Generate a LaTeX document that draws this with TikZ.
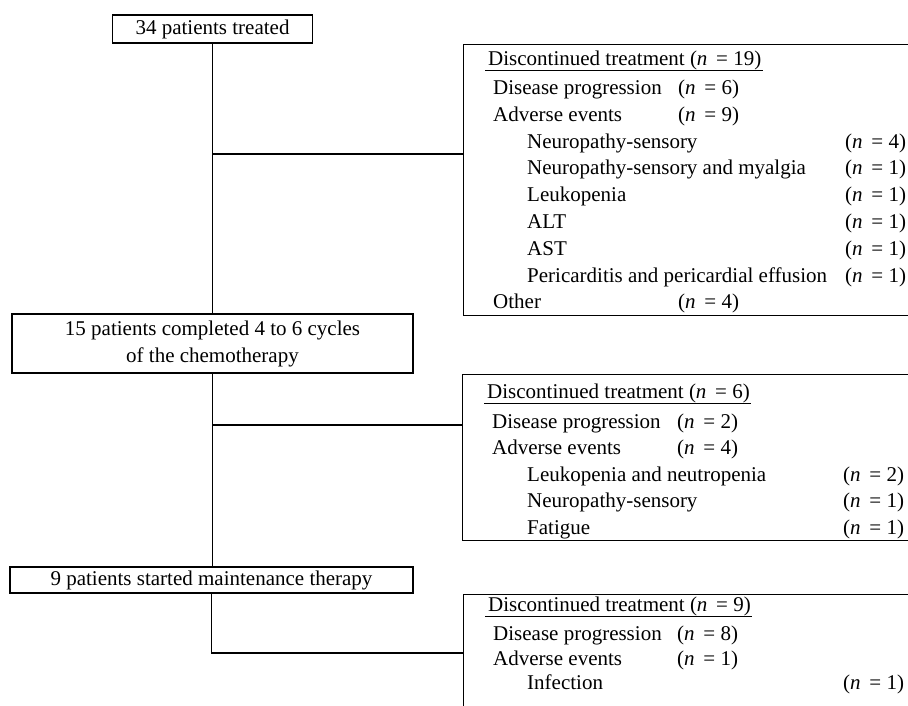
\documentclass[tikz,border=0pt]{standalone}
\usepackage{fontspec}
\setmainfont{Liberation Serif}
\newcommand{\nval}[1]{(\textit{n}\,\ = #1)}
\begin{document}
\begin{tikzpicture}[x=1pt,y=-1pt,
	every node/.style={font=\fontsize{21}{27}\selectfont},
	pbox/.style={draw,line width=1.4pt,align=center,inner sep=0pt},
	dbox/.style={draw,line width=1.4pt,anchor=north west,inner sep=0pt},
	item/.style={anchor=base west,inner sep=0pt},
	link/.style={line width=1.3pt},
	hlink/.style={line width=2pt},
	uline/.style={line width=0.9pt}]
	\useasboundingbox (0,0) rectangle (908,705);
	\clip (0,0) rectangle (908,705);
	\node[pbox,minimum width=200pt,minimum height=28pt] (treated) at (212.5,29) {34 patients treated};
	\node[pbox,minimum width=401pt,minimum height=59pt] (completed) at (212.5,343.5) {15 patients completed 4 to 6 cycles\\of the chemotherapy};
	\node[pbox,minimum width=403pt,minimum height=26pt] (started) at (211.5,580) {9 patients started maintenance therapy};
	\node[dbox,minimum width=540pt,minimum height=271pt] (off1) at (463,44) {};
	\node[dbox,minimum width=540pt,minimum height=166pt] (off2) at (462,374) {};
	\node[dbox,minimum width=540pt,minimum height=200pt] (off3) at (463,594) {};
	\node[item] (h1) at (488,65) {Discontinued treatment \nval{19}};
	\node[item] (p1) at (493,94) {Disease progression};
	\node[item] (p1n) at (678,94) {\nval{6}};
	\node[item] (e1) at (493,121) {Adverse events};
	\node[item] (e1n) at (678,121) {\nval{9}};
	\node[item] (e1a) at (527,148) {Neuropathy-sensory};
	\node[item] (e1an) at (845,148) {\nval{4}};
	\node[item] (e1b) at (527,174.5) {Neuropathy-sensory and myalgia};
	\node[item] (e1bn) at (845,174.5) {\nval{1}};
	\node[item] (e1c) at (527,201) {Leukopenia};
	\node[item] (e1cn) at (845,201) {\nval{1}};
	\node[item] (e1d) at (527,228) {ALT};
	\node[item] (e1dn) at (845,228) {\nval{1}};
	\node[item] (e1e) at (527,255) {AST};
	\node[item] (e1en) at (845,255) {\nval{1}};
	\node[item] (e1f) at (527,282) {Pericarditis and pericardial effusion};
	\node[item] (e1fn) at (845,282) {\nval{1}};
	\node[item] (o1) at (493,308.5) {Other};
	\node[item] (o1n) at (678,308.5) {\nval{4}};
	\node[item] (h2) at (487,398) {Discontinued treatment \nval{6}};
	\node[item] (p2) at (492,428) {Disease progression};
	\node[item] (p2n) at (677,428) {\nval{2}};
	\node[item] (e2) at (492,454.5) {Adverse events};
	\node[item] (e2n) at (677,454.5) {\nval{4}};
	\node[item] (e2a) at (527,481) {Leukopenia and neutropenia};
	\node[item] (e2an) at (843,481) {\nval{2}};
	\node[item] (e2b) at (527,507.5) {Neuropathy-sensory};
	\node[item] (e2bn) at (843,507.5) {\nval{1}};
	\node[item] (e2c) at (527,534) {Fatigue};
	\node[item] (e2cn) at (843,534) {\nval{1}};
	\node[item] (h3) at (488,611) {Discontinued treatment \nval{9}};
	\node[item] (p3) at (493,640) {Disease progression};
	\node[item] (p3n) at (677,640) {\nval{8}};
	\node[item] (e3) at (493,665) {Adverse events};
	\node[item] (e3n) at (677,665) {\nval{1}};
	\node[item] (e3a) at (527,689) {Infection};
	\node[item] (e3an) at (843,689) {\nval{1}};
	\draw[uline] ([xshift=-3pt,yshift=-5pt]h1.base west) -- ([xshift=1pt,yshift=-5pt]h1.base east);
	\draw[uline] ([xshift=-3pt,yshift=-5pt]h2.base west) -- ([xshift=1pt,yshift=-5pt]h2.base east);
	\draw[uline] ([xshift=-3pt,yshift=-5pt]h3.base west) -- ([xshift=1pt,yshift=-5pt]h3.base east);
	\coordinate (j1) at (212.5,154);
	\coordinate (j2) at (212.5,425);
	\coordinate (j3) at (211.5,653);
	\draw[link] (treated.south) -- (treated.south |- completed.north);
	\draw[hlink] (j1) -- (j1 -| off1.west);
	\draw[link] (completed.south) -- (completed.south |- started.north);
	\draw[hlink] (j2) -- (j2 -| off2.west);
	\draw[link] (started.south) |- (j3 -| off3.west);
\end{tikzpicture}
\end{document}
